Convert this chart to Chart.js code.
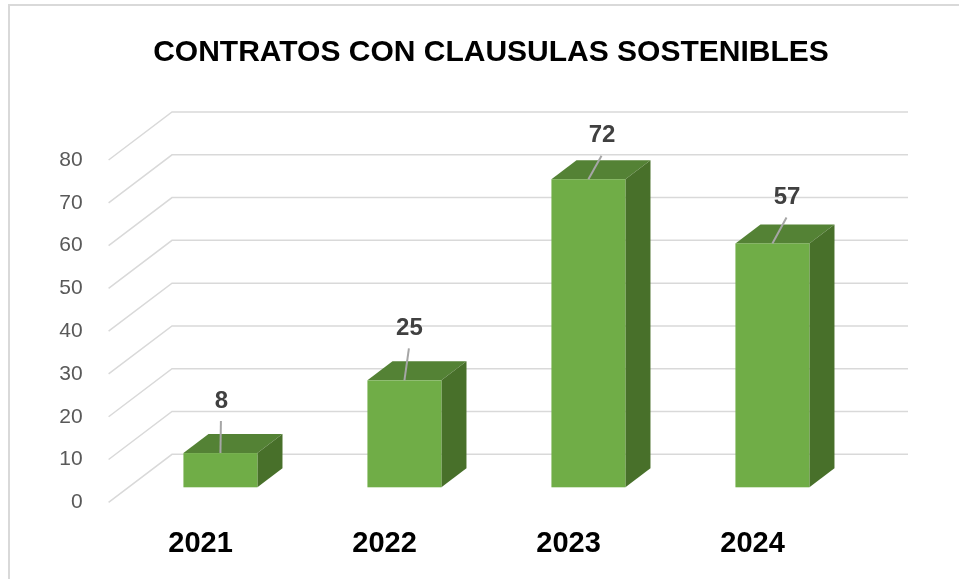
<!DOCTYPE html>
<html>
<head>
<meta charset="utf-8">
<script src="https://cdn.jsdelivr.net/npm/chart.js@4.4.1/dist/chart.umd.min.js"></script>
<style>
  html, body { margin: 0; padding: 0; background: #fff; overflow: hidden; }
  #frame {
    position: absolute; left: 8px; top: 4px; width: 2000px; height: 2000px;
    border-left: 2px solid #d9d9d9; border-top: 2px solid #d9d9d9;
  }
  #chart { position: absolute; left: 0; top: 0; }
</style>
</head>
<body>
<div id="frame"></div>
<canvas id="chart" width="959" height="579"></canvas>
<script>
// Datos del gráfico
const years = ['2021', '2022', '2023', '2024'];
const contratos = [8, 25, 72, 57];
const yMin = 0;
const yMax = 80;
const yStep = 10;

// Estilo 3D (imitación del gráfico de Excel)
const font = 'Liberation Sans';
const depth = { x: 63.4, y: -48 };       // profundidad total de las paredes
const barNear = 0.3125;                   // fracción de profundidad de la cara frontal
const barFar = 0.708;                     // fracción de profundidad de la cara trasera
const gridColor = '#d9d9d9';
const frontColor = '#70ad47';
const topColor = '#548235';
const sideColor = '#48702a';
// desplazamiento de cada etiqueta respecto al centro superior de la barra
const labelOffsets = [[1, -53], [5, -53], [13.6, -44.5], [14.6, -47]];

const walls3d = {
  id: 'walls3d',
  beforeDatasetsDraw(chart) {
    const { ctx, chartArea, scales } = chart;
    const y = scales.y;
    ctx.save();
    ctx.strokeStyle = gridColor;
    ctx.lineWidth = 1.5;
    y.ticks.forEach((t) => {
      const py = y.getPixelForValue(t.value);
      ctx.beginPath();
      ctx.moveTo(chartArea.left, py);
      ctx.lineTo(chartArea.left + depth.x, py + depth.y);
      ctx.lineTo(chartArea.right + depth.x, py + depth.y);
      ctx.stroke();
    });
    ctx.restore();
  },
  afterDatasetsDraw(chart) {
    const { ctx } = chart;
    const meta = chart.getDatasetMeta(0);
    const nx = depth.x * barNear, ny = depth.y * barNear;
    const bx = depth.x * (barFar - barNear), by = depth.y * (barFar - barNear);
    ctx.save();
    meta.data.forEach((el, i) => {
      const p = el.getProps(['x', 'y', 'base', 'width'], true);
      const L = p.x - p.width / 2 + nx;
      const R = p.x + p.width / 2 + nx;
      const T = p.y + ny;
      const B = p.base + ny;

      // cara superior
      ctx.fillStyle = topColor;
      ctx.beginPath();
      ctx.moveTo(L, T); ctx.lineTo(R, T);
      ctx.lineTo(R + bx, T + by); ctx.lineTo(L + bx, T + by);
      ctx.closePath(); ctx.fill();

      // cara lateral
      ctx.fillStyle = sideColor;
      ctx.beginPath();
      ctx.moveTo(R, T); ctx.lineTo(R + bx, T + by);
      ctx.lineTo(R + bx, B + by); ctx.lineTo(R, B);
      ctx.closePath(); ctx.fill();

      // cara frontal
      ctx.fillStyle = frontColor;
      ctx.fillRect(L, T, R - L, B - T);

      // etiqueta de datos con línea guía
      const cx = (L + R) / 2;
      const [dx, dy] = labelOffsets[i];
      ctx.strokeStyle = '#a6a6a6';
      ctx.lineWidth = 2;
      ctx.beginPath();
      ctx.moveTo(cx, T);
      ctx.lineTo(cx + dx - 0.5, T + dy + 21);
      ctx.stroke();

      ctx.fillStyle = '#404040';
      ctx.font = `bold 24px "${font}"`;
      ctx.textAlign = 'center';
      ctx.textBaseline = 'middle';
      ctx.fillText(String(contratos[i]), cx + dx, T + dy + 1);
    });
    ctx.restore();
  },
};

new Chart(document.getElementById('chart'), {
  type: 'bar',
  data: {
    labels: years,
    datasets: [{
      data: contratos,
      backgroundColor: 'rgba(0,0,0,0)',
      borderWidth: 0,
      categoryPercentage: 1,
      barPercentage: 0.402,
    }],
  },
  options: {
    responsive: false,
    animation: false,
    devicePixelRatio: 1,
    layout: { padding: { left: 23, right: 0, top: 0, bottom: 0 } },
    plugins: {
      legend: { display: false },
      tooltip: { enabled: false },
      title: {
        display: true,
        text: 'CONTRATOS CON CLAUSULAS SOSTENIBLES',
        color: '#000',
        font: { family: font, size: 30, weight: 'bold' },
        padding: { top: 34.3, bottom: 89.7 },
      },
    },
    scales: {
      x: {
        grid: { display: false, drawTicks: false },
        border: { display: false },
        ticks: {
          color: '#000',
          padding: 24,
          font: { family: font, size: 29, weight: 'bold' },
        },
        afterFit: (s) => { s.height = 76.7; },
      },
      y: {
        min: yMin,
        max: yMax,
        grid: { display: false, drawTicks: false },
        border: { display: false },
        ticks: {
          stepSize: yStep,
          color: '#595959',
          padding: 26,
          font: { family: font, size: 21 },
        },
        afterFit: (s) => { s.width = 85.6; },
      },
      yR: {
        position: 'right',
        display: true,
        grid: { display: false, drawTicks: false },
        border: { display: false },
        ticks: { display: false },
        afterFit: (s) => { s.width = 114.4; },
      },
    },
  },
  plugins: [walls3d],
});
</script>
</body>
</html>
